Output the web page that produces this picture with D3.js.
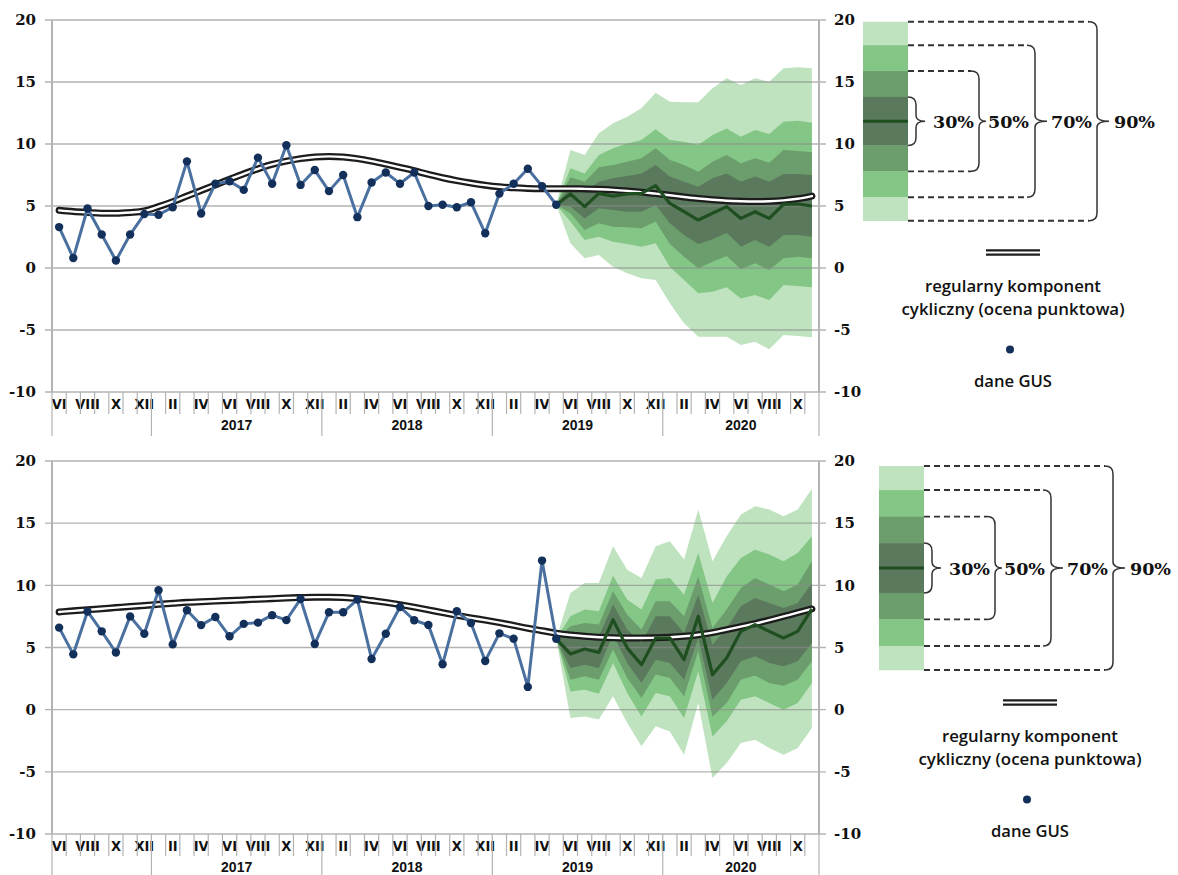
<!DOCTYPE html>
<html><head><meta charset="utf-8">
<script src="https://cdn.jsdelivr.net/npm/d3@7"></script>
<style>body{margin:0;background:#fff}svg{display:block}</style>
</head><body>
<svg id="c" width="1178" height="875"></svg>
<script>
// ---------- DATA ----------
const months = ["VI","VII","VIII","IX","X","XI","XII",
  "I","II","III","IV","V","VI","VII","VIII","IX","X","XI","XII",
  "I","II","III","IV","V","VI","VII","VIII","IX","X","XI","XII",
  "I","II","III","IV","V","VI","VII","VIII","IX","X","XI","XII",
  "I","II","III","IV","V","VI","VII","VIII","IX","X","XI"];
const yearLabels = ["2017","2018","2019","2020"];
const yTicks = [-10,-5,0,5,10,15,20];
const levelLabels = ["30%","50%","70%","90%"];
const legendTrendLines = ["regularny komponent","cykliczny (ocena punktowa)"];
const legendGus = "dane GUS";

// top panel
const gusTop = [3.3,0.8,4.8,2.7,0.6,2.7,4.35,4.3,4.9,8.6,4.4,6.8,7.0,6.3,8.9,6.8,9.9,6.7,7.9,
  6.2,7.5,4.1,6.9,7.7,6.8,7.7,5.0,5.1,4.9,5.3,2.8,6.0,6.8,8.0,6.6,5.1];
const trendTop = [4.65,4.55,4.48,4.42,4.42,4.48,4.6,4.95,5.35,5.8,6.25,6.7,7.15,7.6,8.0,8.35,8.62,8.82,8.95,9.0,
  8.95,8.82,8.62,8.38,8.12,7.85,7.55,7.28,7.05,6.85,6.68,6.55,6.47,6.42,6.4,6.4,6.4,6.38,6.35,6.3,
  6.22,6.12,6.0,5.87,5.73,5.6,5.5,5.42,5.38,5.36,5.38,5.45,5.58,5.8];
const fcTop   = [5.1,5.97,4.95,6.02,5.8,5.97,6.02,6.64,5.21,4.54,3.87,4.41,4.95,4.0,4.54,4.0,5.13,5.16,5.0];
const hi30Top = [5.1,6.56,6.15,6.96,7.23,7.42,7.63,8.31,7.37,6.96,6.56,7.23,7.63,6.96,7.37,6.96,7.58,7.58,7.5];
const lo30Top = [5.1,4.95,4.0,4.81,4.68,4.54,4.54,5.08,3.6,2.66,1.94,2.31,2.85,1.72,2.26,1.72,2.66,2.66,2.53];
const hi50Top = [5.1,7.31,6.96,8.12,8.31,8.57,8.85,9.65,8.71,8.31,7.77,8.57,9.11,8.44,8.85,8.49,9.52,9.44,9.33];
const lo50Top = [5.1,4.41,3.06,3.6,3.33,3.28,3.2,3.74,1.94,0.91,-0.03,0.51,0.97,-0.1,0.38,-0.16,0.78,0.91,0.78];
const hi70Top = [5.1,8.04,7.63,9.11,9.65,10.05,10.32,11.18,10.32,10.19,9.92,10.73,11.26,10.59,11.13,10.81,11.8,11.88,11.72];
const lo70Top = [5.1,3.74,2.26,2.53,2.12,1.94,1.72,1.99,0.1,-0.97,-2.04,-1.91,-1.56,-2.45,-2.18,-2.58,-1.37,-1.45,-1.56];
const hi90Top = [5.1,9.52,9.11,10.86,11.67,12.2,12.88,14.14,13.41,13.36,13.36,14.49,15.3,14.76,15.3,15.03,16.1,16.18,16.1];
const lo90Top = [5.1,2.0,0.78,1.05,0.1,-0.43,-0.83,-0.97,-2.85,-4.46,-5.54,-5.54,-5.54,-6.2,-5.94,-6.56,-5.4,-5.48,-5.59];

// bottom panel
const gusBot = [6.6,4.45,7.9,6.3,4.6,7.5,6.1,9.6,5.25,8.0,6.8,7.45,5.9,6.9,7.0,7.6,7.2,8.9,5.28,
  7.83,7.83,8.85,4.08,6.11,8.26,7.19,6.81,3.65,7.91,6.97,3.92,6.14,5.71,1.83,11.99,5.7];
const trendBot = [7.86,7.95,8.03,8.12,8.21,8.3,8.38,8.47,8.55,8.63,8.68,8.73,8.78,8.83,8.88,8.93,8.98,9.02,9.05,9.05,
  9.02,8.93,8.78,8.63,8.45,8.25,8.03,7.8,7.58,7.38,7.2,7.0,6.78,6.55,6.35,6.15,6.0,5.9,5.83,5.79,
  5.77,5.77,5.78,5.82,5.9,6.03,6.2,6.44,6.68,6.92,7.2,7.5,7.8,8.1];
const fcBot   = [5.7,4.48,4.88,4.61,7.24,4.96,3.62,5.77,5.77,4.02,7.51,2.82,4.16,6.3,6.84,6.3,5.77,6.3,8.1];
const hi30Bot = [5.7,5.9,6.03,5.9,8.45,6.44,5.37,7.51,7.51,6.17,9.25,5.23,6.57,8.31,8.98,8.58,8.18,8.58,10.19];
const lo30Bot = [5.7,3.35,3.62,3.35,6.03,3.76,2.15,4.02,3.76,2.41,5.77,0.8,2.15,3.89,4.29,3.76,3.49,3.89,5.37];
const hi50Bot = [5.7,6.7,6.97,6.84,9.52,7.64,6.44,8.71,8.71,7.51,10.72,6.57,8.05,9.79,10.59,10.06,9.52,10.06,11.93];
const lo50Bot = [5.7,2.41,2.68,2.41,4.83,2.55,0.94,2.82,2.55,1.07,4.69,-0.54,0.54,2.41,2.74,2.15,1.93,2.41,3.89];
const hi70Bot = [5.7,7.51,8.05,7.91,10.78,8.85,8.05,10.46,10.59,9.25,12.6,8.58,10.72,12.2,12.87,12.47,11.93,12.6,13.94];
const lo70Bot = [5.7,1.47,1.61,1.29,3.76,1.34,-0.54,1.34,1.07,-0.67,3.08,-2.15,-0.94,0.8,1.07,0.54,0,0.54,2.15];
const hi90Bot = [5.7,9.39,10.19,10.19,13.14,11.26,10.59,13.14,13.54,12.07,16.09,11.93,13.94,15.69,16.36,16.09,15.55,16.09,17.76];
const lo90Bot = [5.7,-0.67,-0.54,-0.8,1.07,-1.07,-2.95,-1.34,-1.75,-3.62,0.54,-5.5,-4.29,-2.68,-2.41,-3.08,-3.62,-3.08,-1.47];

// ---------- STYLE ----------
const C = {c90:"#bfe2bf", c70:"#83c685", c50:"#6c9e6d", c30:"#5b795c", center:"#1f4e20",
  gus:"#4a709f", gusDot:"#13305a", grid:"#8a8a8a", axis:"#b3b3b3", text:"#111"};
const svg = d3.select("#c");
const L = 52, R = 819;
const x = d3.scaleBand().domain(d3.range(months.length)).range([L, R]).paddingInner(0).paddingOuter(0);
const cx = i => x(i) + x.bandwidth()/2;

function drawPanel(top, bottom, gus, trend, fc, bands) {
  const y = d3.scaleLinear().domain([-10, 20]).range([bottom, top]);
  const g = svg.append("g");
  const fanStart = gus.length - 1;

  // fan
  const order = [["hi90","lo90",C.c90],["hi70","lo70",C.c70],["hi50","lo50",C.c50],["hi30","lo30",C.c30]];
  order.forEach(([hk, lk, col]) => {
    const hi = bands[hk], lo = bands[lk];
    const area = d3.area().x((d,i)=>cx(fanStart+i)).y0((d,i)=>y(lo[i])).y1(d=>y(d));
    g.append("path").attr("d", area(hi)).attr("fill", col);
  });

  // gridlines
  g.append("g").selectAll("line").data(yTicks).join("line")
    .attr("x1", L-7).attr("x2", R+7).attr("y1", d=>y(d)).attr("y2", d=>y(d))
    .attr("stroke", C.grid).attr("stroke-opacity", 0.65).attr("stroke-width", 1.4);

  // vertical plot borders
  [L, R].forEach(xx => g.append("line").attr("x1", xx).attr("x2", xx).attr("y1", top).attr("y2", bottom)
    .attr("stroke", C.axis).attr("stroke-width", 2));

  // y axes (labels)
  const fmt = d => String(d);
  const la = g.append("g").attr("transform", `translate(${L},0)`)
    .call(d3.axisLeft(y).tickValues(yTicks).tickFormat(fmt).tickSize(0).tickPadding(16));
  const ra = g.append("g").attr("transform", `translate(${R},0)`)
    .call(d3.axisRight(y).tickValues(yTicks).tickFormat(fmt).tickSize(0).tickPadding(15));
  [la, ra].forEach(a => {
    a.select(".domain").remove();
    a.selectAll("text").attr("font-family", "'DejaVu Serif', serif").attr("font-weight", "bold")
      .attr("font-size", 15).attr("fill", C.text);
  });

  // x axis: month labels
  const xa = g.append("g").attr("transform", `translate(0,${bottom})`)
    .call(d3.axisBottom(x).tickSize(0).tickPadding(7).tickFormat(d => d % 2 === 0 ? months[d] : ""));
  xa.select(".domain").remove();
  xa.selectAll("text").attr("font-family", "'Liberation Sans Narrow','Arial Narrow','DejaVu Sans Condensed',sans-serif")
    .attr("font-weight", "bold").attr("font-size", 14.5).attr("fill", C.text);
  // month ticks
  const bounds = d3.range(months.length + 1);
  g.append("g").selectAll("line").data(bounds).join("line")
    .attr("x1", d => d < months.length ? x(d) : R).attr("x2", d => d < months.length ? x(d) : R)
    .attr("y1", bottom).attr("y2", d => (d === 0 || d === months.length || months[d] === "I") ? bottom + 44 : bottom + 22)
    .attr("stroke", C.axis).attr("stroke-width", 1.2);
  // year labels
  const yStarts = months.map((m,i)=>m==="I"?i:-1).filter(i=>i>=0);
  yearLabels.forEach((lab, k) => {
    const s = yStarts[k], e = (k+1 < yStarts.length) ? yStarts[k+1] : months.length;
    const xs = x(s), xe = e < months.length ? x(e) : R;
    g.append("text").attr("x", (xs+xe)/2).attr("y", bottom + 38).attr("text-anchor","middle")
      .attr("font-family","'Liberation Sans',Arial,sans-serif").attr("font-weight","bold")
      .attr("font-size", 14).attr("fill", C.text).text(lab);
  });

  // trend (double line)
  const tl = d3.line().x((d,i)=>cx(i)).y(d=>y(d)).curve(d3.curveMonotoneX);
  g.append("path").attr("d", tl(trend)).attr("fill","none").attr("stroke","#1c1c1c")
    .attr("stroke-width", 7).attr("stroke-linecap","round").attr("stroke-linejoin","round");
  g.append("path").attr("d", tl(trend)).attr("fill","none").attr("stroke","#fff")
    .attr("stroke-width", 2.4).attr("stroke-linecap","round");

  // forecast center
  const fl = d3.line().x((d,i)=>cx(fanStart+i)).y(d=>y(d));
  g.append("path").attr("d", fl(fc)).attr("fill","none").attr("stroke", C.center)
    .attr("stroke-width", 3.2).attr("stroke-linejoin","round");

  // GUS data
  const gl = d3.line().x((d,i)=>cx(i)).y(d=>y(d));
  g.append("path").attr("d", gl(gus)).attr("fill","none").attr("stroke", C.gus)
    .attr("stroke-width", 3).attr("stroke-linejoin","round");
  g.append("g").selectAll("circle").data(gus).join("circle")
    .attr("cx", (d,i)=>cx(i)).attr("cy", d=>y(d)).attr("r", 4.2).attr("fill", C.gusDot);
}

function drawLegend(x0, y0, h, tcx, ty) {
  const g = svg.append("g");
  const w = 45;
  const stops = [0, .118, .248, .378, .622, .752, .882, 1];
  const cols = [C.c90, C.c70, C.c50, C.c30, C.c50, C.c70, C.c90];
  cols.forEach((c, i) => g.append("rect").attr("x", x0).attr("y", y0 + stops[i]*h)
    .attr("width", w).attr("height", (stops[i+1]-stops[i])*h + 0.3).attr("fill", c));
  const m = y0 + h/2;
  g.append("line").attr("x1", x0).attr("x2", x0 + w).attr("y1", m).attr("y2", m)
    .attr("stroke", C.center).attr("stroke-width", 3);
  const spec = [
    {t:.378, b:.622, bx:53, px:62, tx:70},
    {t:.248, b:.752, bx:116, px:123, tx:125},
    {t:.118, b:.882, bx:172, px:184, tx:188},
    {t:0, b:1, bx:234, px:246, tx:251}];
  spec.forEach((s, k) => {
    const t = y0 + s.t*h, b = y0 + s.b*h, bx = x0 + s.bx, px = x0 + s.px, r = 8;
    if (k > 0) {
      [t, b].forEach(yy => g.append("line").attr("x1", x0 + w).attr("x2", bx - r).attr("y1", yy).attr("y2", yy)
        .attr("stroke", "#333").attr("stroke-width", 1.9).attr("stroke-dasharray", "6,4"));
    }
    const p = `M${bx-r},${t} Q${bx},${t} ${bx},${t+r} L${bx},${m-6} Q${bx},${m} ${px},${m} Q${bx},${m} ${bx},${m+6} L${bx},${b-r} Q${bx},${b} ${bx-r},${b}`;
    g.append("path").attr("d", p).attr("fill","none").attr("stroke","#333").attr("stroke-width",1.5);
    g.append("text").attr("x", x0 + s.tx).attr("y", m + 7).attr("font-family","'DejaVu Serif',serif")
      .attr("font-weight","bold").attr("font-size", 17.5).attr("fill", C.text).text(levelLabels[k]);
  });
  // trend symbol
  g.append("line").attr("x1", tcx-27).attr("x2", tcx+27).attr("y1", ty).attr("y2", ty)
    .attr("stroke","#1c1c1c").attr("stroke-width", 6.5);
  g.append("line").attr("x1", tcx-27).attr("x2", tcx+27).attr("y1", ty).attr("y2", ty)
    .attr("stroke","#fff").attr("stroke-width", 2.2);
  const widths = [176, 223];
  legendTrendLines.forEach((s, i) => g.append("text").attr("x", tcx).attr("y", ty + 39 + i*23)
    .attr("text-anchor","middle").attr("font-family","'Open Sans',sans-serif").attr("font-weight", 600)
    .attr("font-size", 15.5).attr("fill", C.text).attr("textLength", widths[i]).attr("lengthAdjust","spacingAndGlyphs").text(s));
  g.append("circle").attr("cx", tcx - 3).attr("cy", ty + 97).attr("r", 4).attr("fill", C.gusDot);
  g.append("text").attr("x", tcx).attr("y", ty + 134).attr("text-anchor","middle")
    .attr("font-family","'Open Sans',sans-serif").attr("font-weight", 600).attr("font-size", 15.5)
    .attr("fill", C.text).attr("textLength", 78).attr("lengthAdjust","spacingAndGlyphs").text(legendGus);
}

drawPanel(20, 392, gusTop, trendTop, fcTop,
  {hi90:hi90Top, lo90:lo90Top, hi70:hi70Top, lo70:lo70Top, hi50:hi50Top, lo50:lo50Top, hi30:hi30Top, lo30:lo30Top});
drawPanel(461, 834, gusBot, trendBot, fcBot,
  {hi90:hi90Bot, lo90:lo90Bot, hi70:hi70Bot, lo70:lo70Bot, hi50:hi50Bot, lo50:lo50Bot, hi30:hi30Bot, lo30:lo30Bot});
drawLegend(863, 21.7, 199, 1013, 252.5);
drawLegend(879, 466, 204, 1030, 702.5);
</script>
</body></html>
